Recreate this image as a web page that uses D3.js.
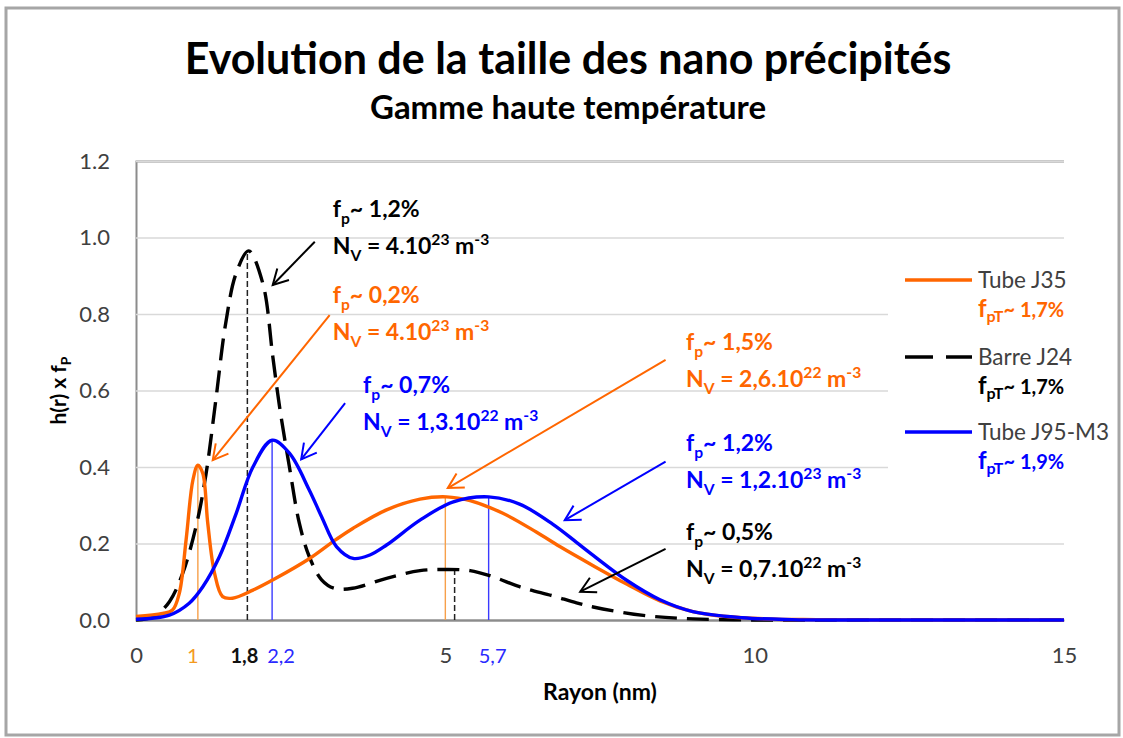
<!DOCTYPE html>
<html>
<head>
<meta charset="utf-8">
<script src="https://cdn.jsdelivr.net/npm/d3@7"></script>
<style>
  body { margin: 0; background: #fff; }
  text { font-family: Lato, "Open Sans", sans-serif; }
</style>
</head>
<body>
<div class="canvas"></div>
<script>
// ---- values ----
const seriesNames = ['Tube J35', 'Barre J24', 'Tube J95-M3'];
const seriesFpTotal = ['1,7%', '1,7%', '1,9%'];

const rayonJ35 = [0, 0.43, 0.59, 0.70, 0.81, 0.92, 1.0, 1.08, 1.16, 1.27, 1.40, 1.56, 1.89, 2.26, 2.80, 3.23, 3.51, 4.05, 4.59, 5.02, 5.40, 5.93, 6.47, 6.85, 7.39, 7.93, 8.47, 9.0, 9.54, 10.35, 11, 12, 13, 14, 15];
const hJ35     = [0.009, 0.017, 0.026, 0.07, 0.21, 0.366, 0.405, 0.383, 0.253, 0.122, 0.061, 0.057, 0.078, 0.109, 0.160, 0.21, 0.24, 0.288, 0.316, 0.322, 0.312, 0.279, 0.230, 0.192, 0.142, 0.094, 0.050, 0.022, 0.009, 0.002, 0.001, 0, 0, 0, 0];

const rayonJ24 = [0, 0.3, 0.54, 0.75, 0.97, 1.13, 1.29, 1.45, 1.62, 1.82, 2.05, 2.21, 2.32, 2.48, 2.64, 2.80, 3.0, 3.2, 3.5, 4.05, 4.59, 5.02, 5.40, 5.77, 6.20, 6.74, 7.12, 7.39, 8.2, 9.0, 10, 11, 15];
const hJ24     = [0, 0.01, 0.048, 0.12, 0.244, 0.38, 0.575, 0.776, 0.907, 0.965, 0.88, 0.69, 0.558, 0.40, 0.253, 0.166, 0.105, 0.083, 0.083, 0.109, 0.129, 0.132, 0.129, 0.113, 0.087, 0.063, 0.045, 0.034, 0.012, 0.003, 0, 0, 0];

const rayonJ95 = [0, 0.54, 0.86, 1.08, 1.35, 1.62, 1.89, 2.2, 2.48, 2.80, 3.0, 3.24, 3.51, 3.78, 4.05, 4.59, 5.13, 5.7, 6.20, 6.74, 7.12, 7.39, 7.93, 8.47, 9.0, 9.8, 10.6, 11.5, 15];
const hJ95     = [0.002, 0.013, 0.044, 0.087, 0.166, 0.279, 0.40, 0.47, 0.436, 0.34, 0.27, 0.192, 0.161, 0.17, 0.196, 0.261, 0.309, 0.322, 0.303, 0.250, 0.203, 0.169, 0.104, 0.053, 0.022, 0.006, 0.001, 0, 0];

const xTicks = [0, 5, 10, 15];
const yTicks = [0, 0.2, 0.4, 0.6, 0.8, 1.0, 1.2];

// peak radii marked with a thin line and a coloured label
const peakSeries = [0, 1, 2, 0, 1, 2];
const peakRayon  = [1, 1.8, 2.2, 5, 5.15, 5.7];
const peakTop    = [0.405, 0.965, 0.47, 0.322, 0.132, 0.322];
const peakLabel  = ['1', '1,8', '2,2', '', '', '5,7'];

// annotations (f_p and N_V per population)
const annSeries = [1, 0, 2, 0, 2, 1];
const annFp     = ['1,2%', '0,2%', '0,7%', '1,5%', '1,2%', '0,5%'];
const annNv     = ['4.10', '4.10', '1,3.10', '2,6.10', '1,2.10', '0,7.10'];
const annNvExp  = ['23', '23', '22', '22', '23', '22'];
const annAt     = [[3.18, 1.054], [3.18, 0.829], [3.67, 0.593], [8.89, 0.706], [8.89, 0.442], [8.89, 0.209]];
const arrowFrom = [[2.89, 0.989], [3.13, 0.797], [3.38, 0.567], [8.56, 0.68], [8.56, 0.414], [8.56, 0.186]];
const arrowTo   = [[2.21, 0.876], [1.24, 0.418], [2.67, 0.42], [5.04, 0.345], [6.93, 0.261], [7.18, 0.074]];

// ---- styles ----
const colors = ['#ff6600', '#000000', '#0000ff'];
const markColors = ['#f7a04a', '#222222', '#3a3aff'];
const labelColors = ['#f39a1e', '#111111', '#2a2aff'];
const peakLabelDx = [-5, -3, 9, 0, 0, 4];

const W = 1123, H = 738;
const margin = { left: 136, right: 59, top: 161, bottom: 118 };

var svg = d3.select('.canvas').append('svg').attr('width', W).attr('height', H);

// chart frame
svg.append('rect')
    .attr('x', 6).attr('y', 8)
    .attr('width', 1113).attr('height', 727)
    .attr('fill', '#fff')
    .attr('stroke', '#a6a6a6')
    .attr('stroke-width', 3);

let x = d3.scaleLinear().domain([0, 15]).range([margin.left, W - margin.right]);
let y = d3.scaleLinear().domain([0, 1.2]).range([H - margin.bottom, margin.top]);

// Title
svg.append('text')
    .text('Evolution de la taille des nano précipités')
    .attr('x', 568).attr('y', 74)
    .attr('text-anchor', 'middle')
    .attr('font-size', 43)
    .attr('font-weight', 'bold')
    .attr('fill', '#000');

svg.append('text')
    .text('Gamme haute température')
    .attr('x', 568).attr('y', 119)
    .attr('text-anchor', 'middle')
    .attr('font-size', 33)
    .attr('font-weight', 'bold')
    .attr('fill', '#000');

// Y axis with gridlines
let yAxis = svg.append('g')
    .attr('transform', 'translate(' + margin.left + ',0)')
    .call(d3.axisLeft(y).tickValues(yTicks).tickFormat(d3.format('.1f'))
        .tickSize(-(W - margin.left - margin.right)).tickPadding(26));
yAxis.selectAll('.tick line').attr('stroke', '#d9d9d9').attr('stroke-width', 1.3);
yAxis.select('.domain').attr('stroke', '#8c8c8c').attr('stroke-width', 2);
yAxis.selectAll('text').attr('font-size', 22).attr('fill', '#404040').style('font-family', 'Lato');

// X axis
let xAxis = svg.append('g')
    .attr('transform', 'translate(0,' + y(0) + ')')
    .call(d3.axisBottom(x).tickValues(xTicks).tickSize(0).tickPadding(27));
xAxis.select('.domain').attr('stroke', '#8c8c8c').attr('stroke-width', 2);
xAxis.selectAll('text').attr('font-size', 22).attr('fill', '#404040').style('font-family', 'Lato');

// Axis titles
svg.append('text')
    .text('Rayon (nm)')
    .attr('x', x(7.5)).attr('y', 700)
    .attr('text-anchor', 'middle')
    .attr('font-size', 23)
    .attr('font-weight', 'bold');

let yTitle = svg.append('text')
    .attr('transform', 'translate(66,' + y(0.6) + ') rotate(-90)')
    .attr('text-anchor', 'middle')
    .attr('font-size', 21)
    .attr('font-weight', 'bold');
yTitle.append('tspan').text('h(r) x f');
yTitle.append('tspan').text('P').attr('font-size', 14).attr('dy', 5);

// peak markers
for (let i = 0; i < peakRayon.length; i++) {
    let s = peakSeries[i];
    svg.append('line')
        .attr('x1', x(peakRayon[i])).attr('x2', x(peakRayon[i]))
        .attr('y1', y(0)).attr('y2', y(peakTop[i]))
        .attr('stroke', markColors[s])
        .attr('stroke-width', s == 1 ? 1.5 : 1.4)
        .attr('stroke-dasharray', s == 1 ? '6,3' : null);
    if (peakLabel[i] != '') {
        svg.append('text')
            .text(peakLabel[i])
            .attr('x', x(peakRayon[i]) + peakLabelDx[i])
            .attr('y', 663)
            .attr('text-anchor', 'middle')
            .attr('font-size', 20)
            .attr('font-weight', s == 1 ? 'bold' : 'normal')
            .attr('fill', labelColors[s]);
    }
}

// curves
let series = [[rayonJ35, hJ35], [rayonJ24, hJ24], [rayonJ95, hJ95]];
let line = d3.line().x(d => x(d[0])).y(d => y(d[1])).curve(d3.curveCatmullRom.alpha(0.5));
let drawOrder = [1, 0, 2];
drawOrder.forEach(s => {
    let pts = series[s][0].map((r, k) => [r, series[s][1][k]]);
    svg.append('path')
        .attr('d', line(pts))
        .attr('fill', 'none')
        .attr('stroke', colors[s])
        .attr('stroke-width', 3.4)
        .attr('stroke-linejoin', 'round')
        .attr('stroke-dasharray', s == 1 ? '22,10' : null);
});

// rich text helper: parts = [[text, 'sub'|'sup'|''], ...]
function richText(xp, yp, parts, color, size) {
    let t = svg.append('text')
        .attr('x', xp).attr('y', yp)
        .attr('font-size', size)
        .attr('font-weight', 'bold')
        .attr('fill', color);
    let off = 0;
    parts.forEach(p => {
        let target = p[1] == 'sub' ? size * 0.3 : (p[1] == 'sup' ? -size * 0.38 : 0);
        t.append('tspan')
            .text(p[0])
            .attr('dy', target - off)
            .attr('font-size', p[1] == '' ? size : size * 0.68);
        off = target;
    });
    return t;
}

// arrows
function arrow(from, to, color) {
    let x1 = x(from[0]), y1 = y(from[1]), x2 = x(to[0]), y2 = y(to[1]);
    let ang = Math.atan2(y1 - y2, x1 - x2);
    let len = 17, spread = 0.5;
    svg.append('line')
        .attr('x1', x1).attr('y1', y1).attr('x2', x2).attr('y2', y2)
        .attr('stroke', color).attr('stroke-width', 2);
    svg.append('path')
        .attr('d', 'M' + (x2 + len * Math.cos(ang + spread)) + ',' + (y2 + len * Math.sin(ang + spread)) +
                   'L' + x2 + ',' + y2 +
                   'L' + (x2 + len * Math.cos(ang - spread)) + ',' + (y2 + len * Math.sin(ang - spread)))
        .attr('fill', 'none').attr('stroke', color).attr('stroke-width', 2)
        .attr('stroke-linejoin', 'miter');
}

for (let i = 0; i < annFp.length; i++) {
    let c = colors[annSeries[i]];
    arrow(arrowFrom[i], arrowTo[i], c);
    let tx = x(annAt[i][0]), ty = y(annAt[i][1]);
    richText(tx, ty, [['f', ''], ['p', 'sub'], ['~ ' + annFp[i], '']], c, 23);
    richText(tx, ty + 37, [['N', ''], ['V', 'sub'], [' = ' + annNv[i], ''], [annNvExp[i], 'sup'], [' m', ''], ['-3', 'sup']], c, 23);
}

// Legend (white box over the plot area)
svg.append('rect')
    .attr('x', 888).attr('y', 255)
    .attr('width', 226).attr('height', 225)
    .attr('fill', '#fff');

let legY = [280, 357, 432];
for (let s = 0; s < 3; s++) {
    svg.append('line')
        .attr('x1', 905).attr('x2', 972)
        .attr('y1', legY[s]).attr('y2', legY[s])
        .attr('stroke', colors[s])
        .attr('stroke-width', 3.4)
        .attr('stroke-dasharray', s == 1 ? '28,13' : null);
    svg.append('text')
        .text(seriesNames[s])
        .attr('x', 978).attr('y', legY[s] + 8)
        .attr('font-size', 22.5)
        .attr('fill', '#404040');
    let t = svg.append('text')
        .attr('x', 978).attr('y', legY[s] + 37)
        .attr('font-weight', 'bold')
        .attr('fill', colors[s]);
    t.append('tspan').text('f').attr('font-size', 24);
    t.append('tspan').text('pT').attr('font-size', 16).attr('dy', 5);
    t.append('tspan').text('~ ' + seriesFpTotal[s]).attr('font-size', 20).attr('dy', -5);
}
</script>
</body>
</html>
